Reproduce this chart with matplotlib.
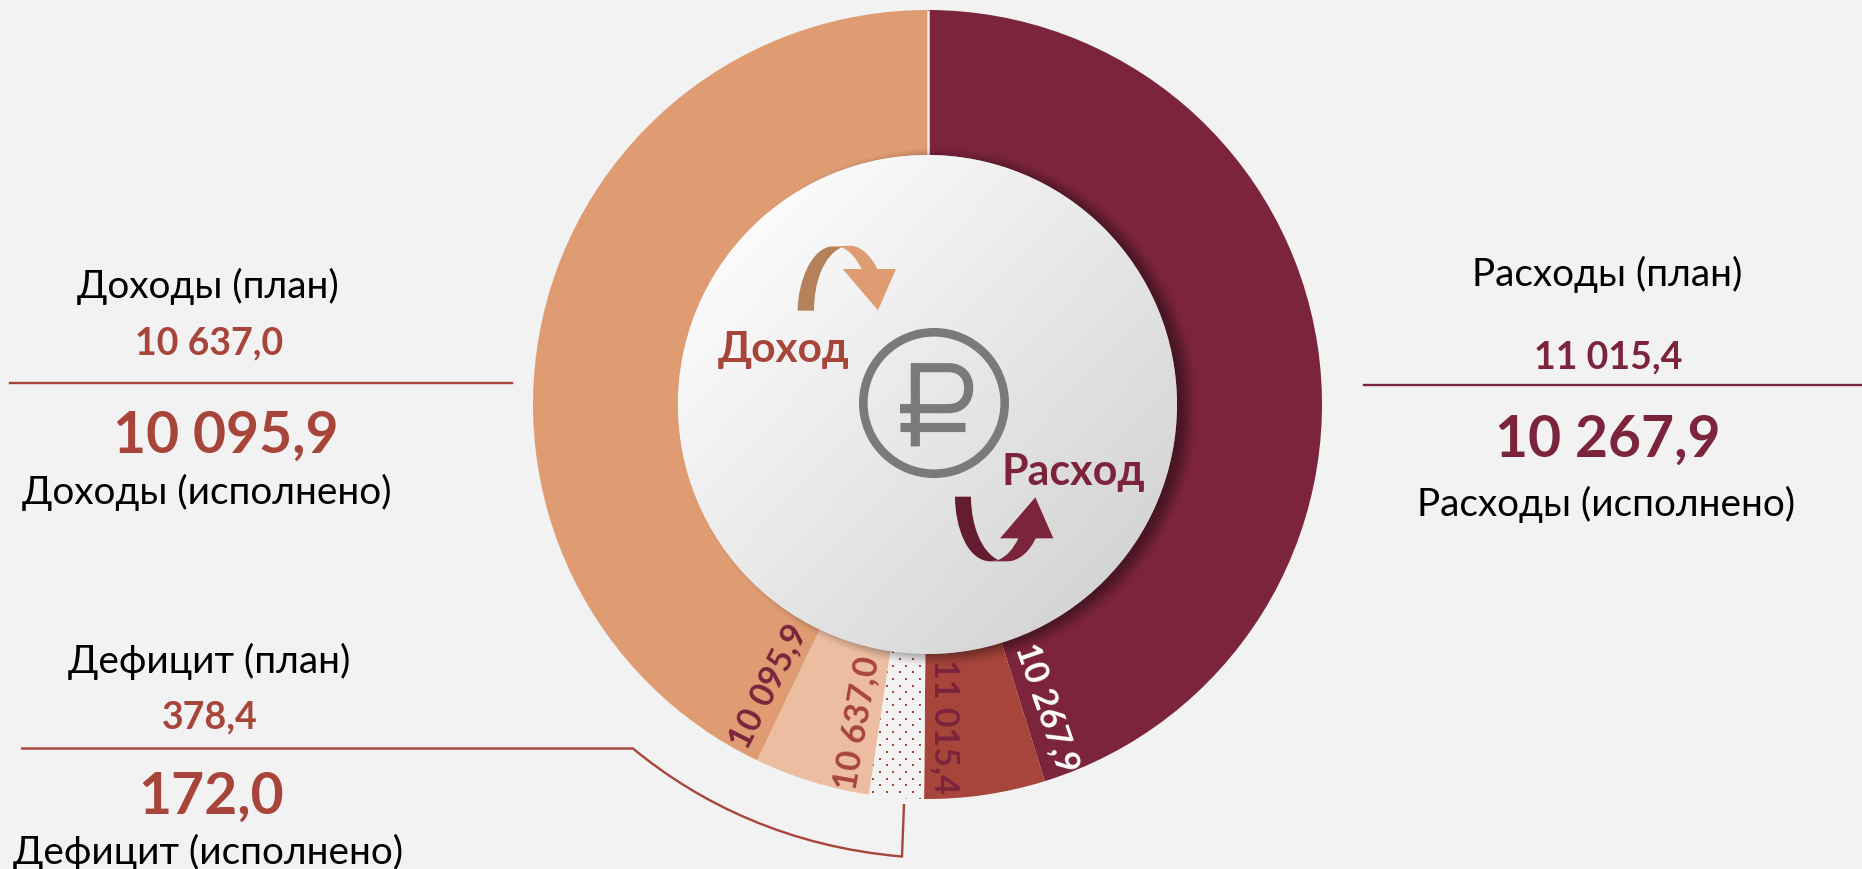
import numpy as np
import matplotlib
matplotlib.use("Agg")
import matplotlib.pyplot as plt
from matplotlib.patches import Circle, PathPatch
from matplotlib.path import Path

# ---- data ----
segment_names = ["Расходы (исполнено)", "Расходы (план)", "Дефицит", "Доходы (план)", "Доходы (исполнено)"]
segment_degrees = [162.7, 17.8, 8.05, 17.05, 154.4]
segment_colors = ["#7B243C", "#A8453B", "#F2F2F2", "#ECBDA0", "#DF9C72"]
ring_labels = ["10 267,9", "11 015,4", "10 637,0", "10 095,9"]
income_plan, income_fact = "10 637,0", "10 095,9"
expense_plan, expense_fact = "11 015,4", "10 267,9"
deficit_plan, deficit_fact = "378,4", "172,0"

BG, RED, MAROON, GREY = "#F2F2F2", "#A8453B", "#7B243C", "#7A7A7A"
W, H = 1862, 870
CX, CY, R_OUT, R_IN = 927.5, 405.5, 394.5, 249.5
plt.rcParams["font.family"] = ["Lato", "DejaVu Sans"]

fig = plt.figure(figsize=(W / 100, H / 100), dpi=100, facecolor=BG)

# ring, drawn by pie in its own axes
pie_ax = fig.add_axes([(CX - R_OUT) / W, 1 - (CY + R_OUT) / H, 2 * R_OUT / W, 2 * R_OUT / H], zorder=1)
wedges, _ = pie_ax.pie(segment_degrees, startangle=90, counterclock=False, colors=segment_colors,
                       radius=1, wedgeprops=dict(width=1 - R_IN / R_OUT, linewidth=0))
pie_ax.set_xlim(-1, 1)
pie_ax.set_ylim(-1, 1)
pie_ax.patch.set_alpha(0)
pie_ax.plot([0, 0], [R_IN / R_OUT, 1], color="#F4EDE8", lw=1.8, solid_capstyle="butt")

# overlay in pixel coordinates
ax = fig.add_axes([0, 0, 1, 1], zorder=2)
ax.patch.set_alpha(0)
ax.axis("off")

# dotted fill of the deficit segment, clipped to its wedge
gx, gy = np.meshgrid(np.arange(840, 960, 13.3), np.arange(640, 810, 13.3))
dot_x = np.concatenate([gx.ravel(), gx.ravel() + 6.65])
dot_y = np.concatenate([gy.ravel(), gy.ravel() + 6.65])
dots = ax.scatter(dot_x, dot_y, s=4.2, marker="s", color=RED, linewidths=0, zorder=0.5)
dots.set_clip_path(wedges[2])

# soft shadow of the centre disc
n = 640
xs = np.linspace(CX - 320, CX + 320, n)
ys = np.linspace(CY - 320, CY + 320, n)
X, Y = np.meshgrid(xs, ys)
d = np.hypot(X - (CX + 10), Y - (CY + 3))
t = np.clip((R_IN + 12 - d) / 20, 0, 1)
shadow = np.zeros((n, n, 4))
shadow[..., 3] = 0.40 * t * t * (3 - 2 * t)
ax.imshow(shadow, extent=(xs[0], xs[-1], ys[-1], ys[0]), zorder=1, aspect="auto", interpolation="bilinear")

# centre disc with diagonal gradient
u = np.clip(((X - CX) * 0.72 + (Y - CY) * 0.69) / (R_IN * 2) + 0.5, 0, 1)
g = 0.985 - 0.15 * u
disc = np.dstack([g, g, g])
im = ax.imshow(disc, extent=(xs[0], xs[-1], ys[-1], ys[0]), zorder=2, aspect="auto", interpolation="bilinear")
clip = Circle((CX, CY), R_IN, transform=ax.transData)
im.set_clip_path(clip)

ax.set_xlim(0, W)
ax.set_ylim(H, 0)


def z(x, y):
    """zoomed-crop coordinates of the centre emblem -> figure pixels"""
    return (680 + x / 3, 220 + y / 3)


def shape(cmds, color, **kw):
    verts, codes = [], []
    for c in cmds:
        if c[0] == "M":
            verts.append(z(*c[1])); codes.append(Path.MOVETO)
        elif c[0] == "L":
            verts.append(z(*c[1])); codes.append(Path.LINETO)
        else:
            for p in c[1:]:
                verts.append(z(*p)); codes.append(Path.CURVE4)
    ax.add_patch(PathPatch(Path(verts, codes), facecolor=color, edgecolor="none", lw=0, zorder=3, **kw))


# upper arrow
shape([("M", (353, 275)), ("C", (353, 190), (395, 82), (460, 82)), ("L", (485, 85)),
       ("C", (430, 110), (402, 190), (402, 275)), ("L", (353, 275))], "#B5815A")
shape([("M", (460, 82)), ("L", (510, 80)), ("C", (545, 80), (575, 115), (592, 150)), ("L", (648, 150)),
       ("L", (594, 274)), ("L", (488, 150)), ("L", (545, 150)), ("C", (530, 120), (510, 95), (485, 85)),
       ("L", (460, 82))], "#DF9C72")
# lower arrow
shape([("M", (825, 833)), ("C", (825, 920), (860, 1025), (930, 1027)), ("L", (955, 1023)),
       ("C", (905, 1000), (873, 920), (873, 833)), ("L", (825, 833))], "#641C30")
shape([("M", (930, 1027)), ("L", (985, 1027)), ("C", (1020, 1025), (1050, 995), (1067, 958)), ("L", (1120, 958)),
       ("L", (1066, 835)), ("L", (960, 958)), ("L", (1015, 958)), ("C", (1000, 990), (980, 1012), (955, 1023)),
       ("L", (930, 1027))], MAROON)

# rouble emblem
ax.add_patch(Circle(z(762, 552), 70.7, fill=False, edgecolor=GREY, lw=6.2, zorder=3))
stem = Path([z(706, 682), z(706, 446), z(805, 446), z(848, 446), z(866, 475), z(866, 507),
             z(866, 540), z(848, 569), z(805, 569), z(660, 569)],
            [Path.MOVETO, Path.LINETO, Path.LINETO, Path.CURVE4, Path.CURVE4, Path.CURVE4,
             Path.CURVE4, Path.CURVE4, Path.CURVE4, Path.LINETO])
ax.add_patch(PathPatch(stem, fill=False, edgecolor=GREY, lw=6.6, capstyle="butt", joinstyle="miter", zorder=3))
ax.plot(*zip(z(660, 623), z(855, 623)), color=GREY, lw=6.6, solid_capstyle="butt", zorder=3)


def txt(x, y, s, size, color="black", bold=False, rot=0):
    ax.text(x, y, s, fontsize=size, color=color, fontweight="bold" if bold else "normal",
            ha="center", va="center", rotation=rot, rotation_mode="anchor", zorder=4)


txt(784, 350, "Доход", 30.5, RED, True)
txt(1073, 472, "Расход", 31, MAROON, True)

# ring labels
txt(1047, 708, ring_labels[0], 24.5, "white", True, -71)
txt(945, 726, ring_labels[1], 24.5, "#7B243C", True, -90)
txt(857, 723, ring_labels[2], 24.5, RED, True, 80)
txt(768, 686, ring_labels[3], 24.5, "#7B243C", True, 63)

# side captions
txt(208, 286, "Доходы (план)", 27.9)
txt(209, 343, income_plan, 27, RED, True)
txt(226, 436, income_fact, 41, RED, True)
txt(207, 492, "Доходы (исполнено)", 27.9)
ax.plot([9.5, 512], [384, 384], color=RED, lw=1.7)

txt(1607, 274, "Расходы (план)", 27.9)
txt(1608, 357, expense_plan, 27, MAROON, True)
txt(1608, 440, expense_fact, 41, MAROON, True)
txt(1606, 504, "Расходы (исполнено)", 27.9)
ax.plot([1364, 1862], [385.5, 385.5], color=MAROON, lw=1.7)

txt(209, 661, "Дефицит (план)", 27.9)
txt(210, 717, deficit_plan, 27, RED, True)
txt(211, 797, deficit_fact, 41, RED, True)
txt(208, 852, "Дефицит (исполнено)", 27.9)

leader = Path([(21, 749.5), (633, 749.5), (700, 805), (790, 848), (902, 857.5), (904, 805)],
              [Path.MOVETO, Path.LINETO, Path.CURVE4, Path.CURVE4, Path.CURVE4, Path.LINETO])
ax.add_patch(PathPatch(leader, fill=False, edgecolor=RED, lw=1.7, joinstyle="miter", zorder=3))

fig.savefig("out.png", dpi=100, facecolor=BG)
